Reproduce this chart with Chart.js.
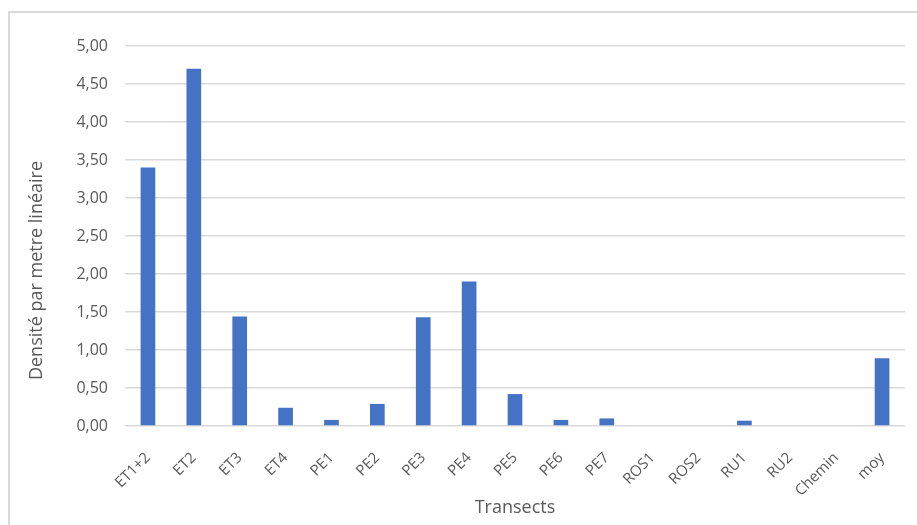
<!DOCTYPE html>
<html>
<head>
<meta charset="utf-8">
<script src="https://cdn.jsdelivr.net/npm/chart.js@4"></script>
<style>
  html, body { margin: 0; padding: 0; background: #fff; }
  #wrap { position: relative; width: 917px; height: 525px; overflow: hidden; }
  #frame { position: absolute; left: 8px; top: 11px; width: 940px; height: 540px;
           border: 2px solid #d9d9d9; box-sizing: border-box; }
  canvas { position: absolute; left: 0; top: 0; }
</style>
</head>
<body>
<div id="wrap">
  <div id="frame"></div>
  <canvas id="densite" width="917" height="525"></canvas>
</div>
<script>
// transects et densité par mètre linéaire
const transects = ['ET1+2', 'ET2', 'ET3', 'ET4', 'PE1', 'PE2', 'PE3', 'PE4', 'PE5',
                   'PE6', 'PE7', 'ROS1', 'ROS2', 'RU1', 'RU2', 'Chemin', 'moy'];
const densites  = [3.40, 4.70, 1.44, 0.24, 0.08, 0.29, 1.43, 1.90, 0.42,
                   0.08, 0.10, 0, 0, 0.07, 0, 0, 0.89];

const FONT = "'Open Sans', sans-serif";
const GREY = '#595959';

// y title is centred on the plot + category labels block, like the spreadsheet does
const yTitle = {
  id: 'yTitle',
  afterDraw(chart) {
    const { ctx, chartArea } = chart;
    const x = chart.scales.x;
    const mid = (chartArea.top + x.bottom - 24) / 2;
    ctx.save();
    ctx.translate(37, mid);
    ctx.rotate(-Math.PI / 2);
    ctx.fillStyle = GREY;
    ctx.font = `18px ${FONT}`;
    ctx.textAlign = 'center';
    ctx.textBaseline = 'middle';
    ctx.fillText('Densité par metre linéaire', 0, 0);
    ctx.restore();
  },
};

new Chart(document.getElementById('densite'), {
  type: 'bar',
  data: {
    labels: transects,
    datasets: [{
      data: densites,
      backgroundColor: '#4472C4',
      borderWidth: 0,
      categoryPercentage: 1,
      barPercentage: 0.32,
    }],
  },
  options: {
    responsive: false,
    animation: false,
    layout: { padding: { left: 26, right: 12, top: 46, bottom: 6 } },
    plugins: { legend: { display: false }, tooltip: { enabled: false } },
    scales: {
      x: {
        grid: { display: false },
        border: { display: false },
        ticks: { color: GREY, font: { family: FONT, size: 15 }, minRotation: 45, maxRotation: 45, padding: 15 },
        title: { display: true, text: 'Transects', color: GREY, font: { family: FONT, size: 18 }, padding: { top: 0, bottom: 0 } },
        afterFit: s => { s.height = 93; },
      },
      y: {
        min: 0, max: 5,
        grid: { color: '#d9d9d9', lineWidth: 1.5, drawTicks: false },
        border: { display: false },
        ticks: {
          stepSize: 0.5, color: GREY, padding: 17,
          font: { family: FONT, size: 16 },
          callback: v => v.toFixed(2).replace('.', ','),
        },
        afterFit: s => { s.width = 99; },
      },
    },
  },
  plugins: [yTitle],
});
</script>
</body>
</html>
